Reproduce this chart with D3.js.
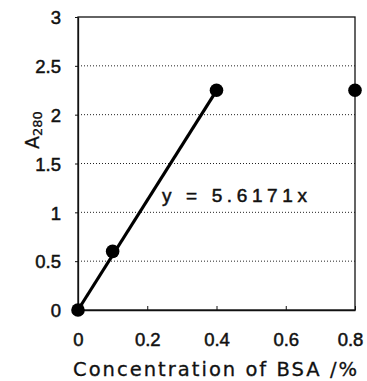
<!DOCTYPE html>
<html>
<head>
<meta charset="utf-8">
<script src="https://cdn.jsdelivr.net/npm/d3@7"></script>
<style>
  body { margin: 0; background: #fff; }
  svg { display: block; }
  text { font-family: "Liberation Sans", Arial, sans-serif; fill: #111; }
</style>
</head>
<body>
<svg id="chart" width="367" height="381"></svg>
<script>
// data
var conc = [0, 0.1, 0.4, 0.8];
var absorb = [0, 0.6, 2.25, 2.25];
var slope = 5.6171;
var fitRange = [0, 0.4];
var xTicks = [0, 0.2, 0.4, 0.6, 0.8];
var yTicks = [0, 0.5, 1, 1.5, 2, 2.5, 3];

var svg = d3.select("#chart");
var margin = { top: 17, right: 12, bottom: 71, left: 78 };
var width = 367 - margin.left - margin.right;
var height = 381 - margin.top - margin.bottom;

var x = d3.scaleLinear().domain([0, 0.8]).range([0, width]);
var y = d3.scaleLinear().domain([0, 3]).range([height, 0]);

var g = svg.append("g")
    .attr("transform", "translate(" + margin.left + "," + margin.top + ")");

// dotted grid
g.selectAll("line.grid")
    .data(yTicks.filter(function(d) { return d > 0 && d < 3; }))
    .enter().append("line")
    .attr("class", "grid")
    .attr("x1", 0).attr("x2", width)
    .attr("y1", y).attr("y2", y)
    .attr("stroke", "#222")
    .attr("stroke-width", 1)
    .attr("stroke-dasharray", "1,2");

// frame
g.append("rect")
    .attr("width", width).attr("height", height)
    .attr("fill", "none")
    .attr("stroke", "#111")
    .attr("stroke-width", 1.3);

// axes
var xAxis = g.append("g")
    .attr("transform", "translate(0," + height + ")")
    .call(d3.axisBottom(x).tickValues(xTicks).tickSizeInner(-4).tickSizeOuter(0)
        .tickPadding(23).tickFormat(d3.format("")));
var yAxis = g.append("g")
    .call(d3.axisLeft(y).tickValues(yTicks).tickSizeInner(3).tickSizeOuter(0)
        .tickPadding(14).tickFormat(d3.format("")));

[xAxis, yAxis].forEach(function(a) {
    a.select(".domain").attr("stroke", "#111").attr("stroke-width", 1.3);
    a.selectAll(".tick line").attr("stroke", "#111");
    a.selectAll(".tick text")
        .attr("font-family", "'Liberation Sans', Arial, sans-serif")
        .attr("font-size", 18.5)
        .attr("fill", "#111")
        .attr("stroke", "#111")
        .attr("stroke-width", 0.5);
});
yAxis.selectAll(".tick text").attr("dy", "0.36em");
// last x label sits a little to the left of its tick in the original
xAxis.selectAll(".tick text").filter(function(d) { return d === 0.8; }).attr("dx", -5);

// trend line y = slope * x
g.append("line")
    .attr("x1", x(fitRange[0])).attr("y1", y(slope * fitRange[0]))
    .attr("x2", x(fitRange[1])).attr("y2", y(slope * fitRange[1]))
    .attr("stroke", "#000")
    .attr("stroke-width", 3.2);

// points
g.selectAll("circle.pt")
    .data(conc)
    .enter().append("circle")
    .attr("class", "pt")
    .attr("cx", function(d) { return x(d); })
    .attr("cy", function(d, i) { return y(absorb[i]); })
    .attr("r", 6.8)
    .attr("fill", "#000");

// equation label
svg.append("text")
    .attr("x", 162).attr("y", 202)
    .attr("font-size", 19)
    .attr("stroke", "#111").attr("stroke-width", 0.5)
    .attr("textLength", 145)
    .attr("lengthAdjust", "spacing")
    .text("y = " + slope + "x");

// axis titles
svg.append("text")
    .attr("x", 73).attr("y", 376)
    .style("font-family", "'DejaVu Sans', sans-serif")
    .attr("font-size", 19.5)
    .attr("stroke", "#111").attr("stroke-width", 0.3)
    .attr("textLength", 284)
    .attr("lengthAdjust", "spacing")
    .text("Concentration of BSA /%");

var yl = svg.append("text")
    .attr("transform", "translate(39,149) rotate(-90)")
    .style("font-family", "'DejaVu Sans', sans-serif")
    .attr("font-size", 19)
    .attr("stroke", "#111").attr("stroke-width", 0.3);
yl.append("tspan").text("A");
yl.append("tspan").attr("font-size", 13).attr("dy", 3).text("280");
</script>
</body>
</html>
